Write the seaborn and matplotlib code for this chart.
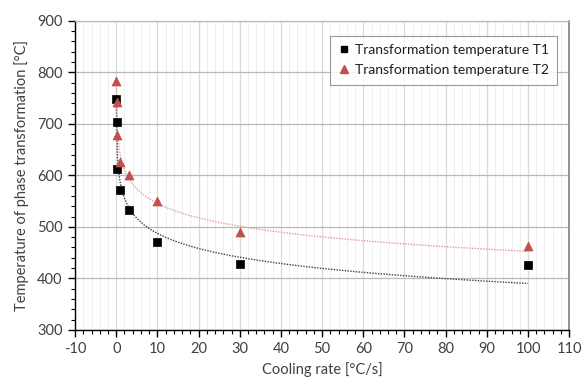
import numpy as np
import pandas as pd
import matplotlib
matplotlib.use("Agg")
import matplotlib.pyplot as plt
from matplotlib.ticker import MultipleLocator
from matplotlib.lines import Line2D
import seaborn as sns

# Data
cooling_rate = [0.03, 0.1, 0.3, 1, 3, 10, 30, 100]
t1_values = [748, 704, 612, 572, 532, 470, 428, 426]
t2_values = [784, 743, 678, 625, 600, 551, 490, 462]
series_names = ["Transformation temperature T1", "Transformation temperature T2"]

sns.set_theme(style="white")
plt.rcParams["font.family"] = ["Lato", "DejaVu Sans"]
plt.rcParams["axes.unicode_minus"] = False

fig = plt.figure(figsize=(5.82, 3.80), dpi=100)
ax = fig.add_axes([0.129, 0.132, 0.849, 0.813])

red = "#C0504D"

# logarithmic trendlines (Excel style), fitted from the data
def log_trend(x, y):
    x = np.asarray(x, float)
    a, b = np.polyfit(np.log(x), np.asarray(y, float), 1)
    xs = np.linspace(min(x), max(x), 400)
    return xs, a * np.log(xs) + b

xs1, ys1 = log_trend(cooling_rate, t1_values)
xs2, ys2 = log_trend(cooling_rate, t2_values)
sns.lineplot(x=xs1, y=ys1, ax=ax, color="#404040", linestyle=(0, (1, 1)), linewidth=1.0, sort=False, zorder=2)
sns.lineplot(x=xs2, y=ys2, ax=ax, color="#E39A98", linestyle=(0, (1, 1)), linewidth=1.0, sort=False, zorder=2)

df = pd.DataFrame({"x": cooling_rate, "T1": t1_values, "T2": t2_values})
sns.scatterplot(data=df, x="x", y="T1", ax=ax, marker="s", color="black", s=32, edgecolor="black", linewidth=0.5, zorder=3)
sns.scatterplot(data=df, x="x", y="T2", ax=ax, marker="^", color=red, s=42, edgecolor=red, linewidth=0.5, zorder=3)

ax.set_xlim(-10, 110)
ax.set_ylim(300, 900)
ax.xaxis.set_major_locator(MultipleLocator(10))
ax.xaxis.set_minor_locator(MultipleLocator(2))
ax.yaxis.set_major_locator(MultipleLocator(100))
ax.yaxis.set_minor_locator(MultipleLocator(20))

ax.grid(False)
ax.grid(True, which="major", axis="y", color="#B8B8B8", linewidth=0.9, zorder=0)
ax.grid(True, which="major", axis="x", color="#D9D9D9", linewidth=0.9, zorder=0)
ax.grid(True, which="minor", axis="x", color="#EFEFEF", linewidth=0.8, zorder=0)
ax.set_axisbelow(True)

ax.tick_params(axis="both", which="major", direction="out", length=5, width=1, color="black",
               labelsize=10.5, labelcolor="#404040", pad=4, bottom=True, left=True)
ax.tick_params(axis="both", which="minor", direction="out", length=3, width=0.8, color="black",
               bottom=True, left=True)

for side in ["left", "bottom"]:
    ax.spines[side].set_color("black")
    ax.spines[side].set_linewidth(1.0)
ax.spines["top"].set_color("#B8B8B8")
ax.spines["right"].set_color("#808080")
ax.spines["top"].set_linewidth(0.9)
ax.spines["right"].set_linewidth(1.2)

ax.set_xlabel("Cooling rate [°C/s]", fontsize=10.5, color="#404040", labelpad=4)
ax.set_ylabel("Temperature of phase transformation [°C]", fontsize=10.5, color="#404040", labelpad=6)

handles = [
    Line2D([], [], marker="s", color="black", linestyle="none", markersize=5),
    Line2D([], [], marker="^", color=red, linestyle="none", markersize=6),
]
leg = ax.legend(handles, series_names, loc="upper right", bbox_to_anchor=(0.99, 0.975),
                fontsize=10, frameon=True, fancybox=False, edgecolor="#808080",
                handlelength=0.8, handletextpad=0.4, borderpad=0.6, labelspacing=0.6)
leg.get_frame().set_linewidth(0.8)
for t in leg.get_texts():
    t.set_color("#202020")

fig.savefig("out.png", dpi=100)
